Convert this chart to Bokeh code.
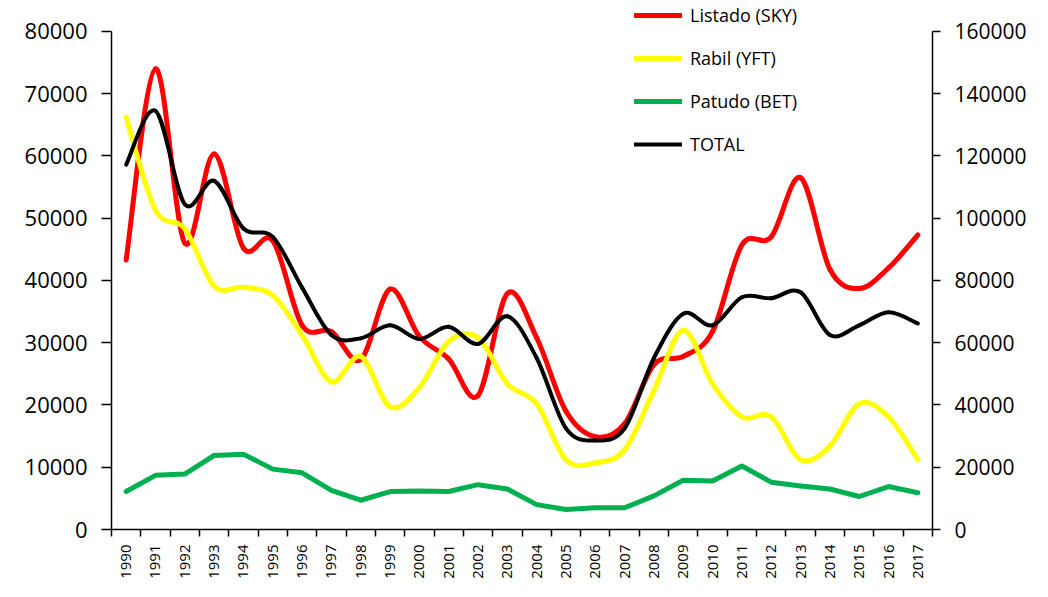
from bokeh.plotting import figure
from bokeh.models import (Range1d, LinearAxis, FixedTicker, Legend, LegendItem,
                          ColumnDataSource)
from bokeh.embed import file_html
from bokeh.resources import INLINE

years = [str(y) for y in range(1990, 2018)]

listado = [43300, 74000, 46000, 60300, 45200, 46400, 32800, 31800, 27300, 38600,
           31000, 27400, 21500, 37900, 30800, 19000, 14900, 17000, 26500, 27800,
           31800, 45700, 47000, 56500, 41800, 38700, 42000, 47300]
rabil = [66200, 51300, 48300, 39100, 38900, 37600, 31200, 23700, 27800, 19700,
         22800, 30200, 30800, 23400, 20200, 11200, 10700, 12800, 22300, 32000,
         23400, 18100, 18100, 11200, 13400, 20200, 18100, 11200]
patudo = [6100, 8700, 8900, 11900, 12100, 9700, 9100, 6300, 4700, 6100,
          6200, 6100, 7200, 6500, 4000, 3200, 3500, 3500, 5400, 7900,
          7800, 10200, 7600, 7000, 6500, 5300, 6900, 5900]
total = [117200, 134500, 104500, 112000, 96700, 94000, 77700, 62500, 61400, 65600,
         61200, 65100, 59600, 68500, 55100, 32500, 28600, 32500, 55100, 69300,
         65600, 74600, 74300, 76200, 62500, 65600, 69800, 66200]

series_names = ["Listado (SKY)", "Rabil (YFT)", "Patudo (BET)", "TOTAL"]

FONT = "Open Sans"

LEFT_MAX = 80000
RIGHT_MAX = 160000
# frame spans the full height so the legend (above the 80000 line) is not clipped;
# axes are bounded to their value ranges
FRAME_H = 530
TOP_PAD = 31
STRETCH = FRAME_H / (FRAME_H - TOP_PAD)

p = figure(width=1032, height=581, output_backend="svg", toolbar_location=None,
           x_range=Range1d(-0.5, len(years) - 0.5),
           y_range=Range1d(0, LEFT_MAX * STRETCH),
           min_border_left=111, min_border_right=100,
           min_border_top=0, min_border_bottom=51)
p.extra_y_ranges = {"right": Range1d(0, RIGHT_MAX * STRETCH)}
p.outline_line_color = None
p.xgrid.visible = False
p.ygrid.visible = False
p.background_fill_color = "white"
p.border_fill_color = "white"


def smooth_source(vals):
    # Excel-style smoothed line: cubic Bezier segments through each data point
    n = len(vals)
    xs = list(range(n))
    d = dict(x0=[], y0=[], x1=[], y1=[], cx0=[], cy0=[], cx1=[], cy1=[])
    for i in range(n - 1):
        i0 = max(i - 1, 0)
        i3 = min(i + 2, n - 1)
        d["x0"].append(xs[i]); d["y0"].append(vals[i])
        d["x1"].append(xs[i + 1]); d["y1"].append(vals[i + 1])
        d["cx0"].append(xs[i] + (xs[i + 1] - xs[i0]) / 6)
        d["cy0"].append(vals[i] + (vals[i + 1] - vals[i0]) / 6)
        d["cx1"].append(xs[i + 1] - (xs[i3] - xs[i]) / 6)
        d["cy1"].append(vals[i + 1] - (vals[i3] - vals[i]) / 6)
    return ColumnDataSource(d)


xidx = list(range(len(years)))
bz = dict(x0="x0", y0="y0", x1="x1", y1="y1", cx0="cx0", cy0="cy0", cx1="cx1", cy1="cy1")

r1 = p.bezier(source=smooth_source(listado), line_color="#FF0000", line_width=5,
              line_cap="round", **bz)
r2 = p.bezier(source=smooth_source(rabil), line_color="#FFFF00", line_width=5,
              line_cap="round", **bz)
r3 = p.line(xidx, patudo, line_color="#00B050", line_width=5, line_cap="round",
            line_join="round")
r4 = p.bezier(source=smooth_source(total), line_color="#000000", line_width=4,
              line_cap="round", y_range_name="right", **bz)

legend = Legend(items=[LegendItem(label=series_names[0], renderers=[r1]),
                       LegendItem(label=series_names[1], renderers=[r2]),
                       LegendItem(label=series_names[2], renderers=[r3]),
                       LegendItem(label=series_names[3], renderers=[r4])],
                location=(523, 372), orientation="vertical",
                label_text_font=FONT, label_text_font_size="18px",
                label_text_color="#000000",
                glyph_width=48, glyph_height=26, label_height=26,
                label_standoff=8, spacing=17, padding=0, margin=0,
                border_line_color=None, background_fill_alpha=0)
p.add_layout(legend, "center")

# bottom category axis
xa = p.xaxis[0]
xa.ticker = FixedTicker(ticks=xidx, minor_ticks=[i - 0.5 for i in range(len(years) + 1)])
xa.major_label_overrides = {i: y for i, y in enumerate(years)}
xa.major_label_orientation = 3.14159265 / 2
xa.major_tick_out = 0
xa.major_tick_in = 0
xa.minor_tick_out = 7
xa.minor_tick_in = 0
xa.minor_tick_line_color = "#000000"
xa.minor_tick_line_width = 1.5
xa.axis_line_color = "#000000"
xa.axis_line_width = 1.5
xa.major_label_text_font = FONT
xa.major_label_text_font_size = "15px"
xa.major_label_text_color = "#000000"
xa.major_label_standoff = 8

# left axis
ya = p.yaxis[0]
ya.ticker = FixedTicker(ticks=list(range(0, LEFT_MAX + 1, 10000)))
ya.bounds = (0, LEFT_MAX)
ya.formatter.use_scientific = False
ya.major_tick_out = 10
ya.major_tick_in = 0
ya.minor_tick_out = 0
ya.minor_tick_in = 0
ya.major_tick_line_width = 1.5
ya.axis_line_width = 1.5
ya.axis_line_color = "#000000"
ya.major_label_text_font = FONT
ya.major_label_text_font_size = "22px"
ya.major_label_text_color = "#000000"
ya.major_label_standoff = 14

# right axis
ra = LinearAxis(y_range_name="right",
                ticker=FixedTicker(ticks=list(range(0, RIGHT_MAX + 1, 20000))))
ra.bounds = (0, RIGHT_MAX)
ra.formatter.use_scientific = False
ra.major_tick_out = 8
ra.major_tick_in = 0
ra.minor_tick_out = 0
ra.minor_tick_in = 0
ra.major_tick_line_width = 1.5
ra.axis_line_width = 1.5
ra.axis_line_color = "#000000"
ra.major_label_text_font = FONT
ra.major_label_text_font_size = "21px"
ra.major_label_text_color = "#000000"
ra.major_label_standoff = 14
p.add_layout(ra, "right")

open("out.html", "w").write(file_html(p, INLINE))
